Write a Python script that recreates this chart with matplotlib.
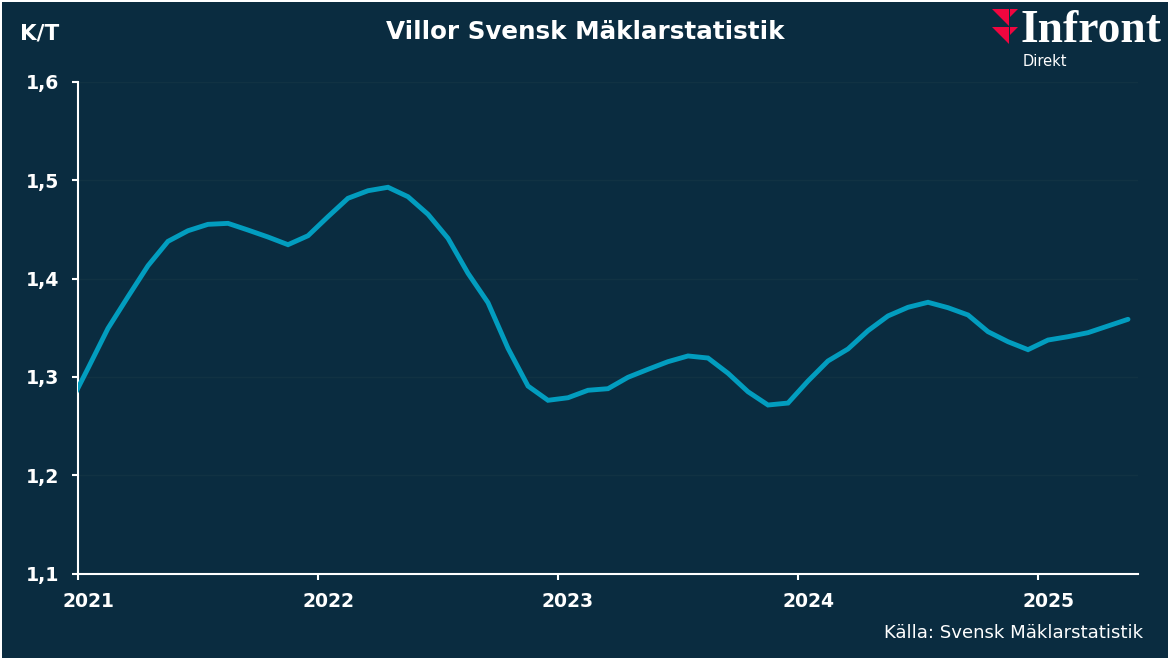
import matplotlib
matplotlib.use("Agg")
import matplotlib.pyplot as plt
from matplotlib.patches import Rectangle, Polygon

W, H = 1170, 660
BG = "#0a2c40"
GRID = "#113243"
LINE = "#029dbf"
RED = "#f0063f"
FONT = ["DejaVu Sans"]

title = "Villor Svensk Mäklarstatistik"
unit = "K/T"
source = "Källa: Svensk Mäklarstatistik"
year_labels = ["2021", "2022", "2023", "2024", "2025"]
y_ticks = [1.1, 1.2, 1.3, 1.4, 1.5, 1.6]
y_labels = ["1,1", "1,2", "1,3", "1,4", "1,5", "1,6"]

# Monthly values; the first one (Dec 2020) falls outside the axis and is clipped
months = list(range(-1, 53))
values = [1.2687,
          1.3087, 1.3494, 1.3816, 1.4131, 1.4379, 1.4487, 1.4552, 1.4562, 1.4494, 1.4423, 1.4345, 1.4436,
          1.4630, 1.4817, 1.4894, 1.4929, 1.4833, 1.4654, 1.4410, 1.4054, 1.3755, 1.3291, 1.2907, 1.2762,
          1.2788, 1.2864, 1.2880, 1.2996, 1.3077, 1.3155, 1.3213, 1.3192, 1.3037, 1.2849, 1.2714, 1.2734,
          1.2958, 1.3162, 1.3284, 1.3470, 1.3620, 1.3708, 1.3759, 1.3704, 1.3630, 1.3460, 1.3358, 1.3277,
          1.3375, 1.3409, 1.3450, 1.3518, 1.3586]


def fx(px):
    return px / W


def fy(py):
    return 1 - py / H


fig = plt.figure(figsize=(W / 100, H / 100), dpi=100, facecolor="white")
fig.add_artist(Rectangle((fx(2), fy(658)), (W - 4) / W, (H - 4) / H, transform=fig.transFigure,
                         facecolor=BG, edgecolor="none", zorder=-5))

ax = fig.add_axes([fx(78), fy(573.5), (1138 - 78) / W, (573.5 - 82) / H])
ax.patch.set_alpha(0)
ax.set_xlim(-0.5, 52.5)
ax.set_ylim(1.1, 1.6)

ax.grid(axis="y", color=GRID, lw=1)
ax.set_axisbelow(True)
ax.plot(months, values, color=LINE, lw=3.5, solid_joinstyle="miter", solid_capstyle="round", clip_on=True, zorder=3)

for s in ("top", "right"):
    ax.spines[s].set_visible(False)
for s in ("left", "bottom"):
    ax.spines[s].set_color("white")
    ax.spines[s].set_linewidth(1.5)

ax.set_yticks(y_ticks, y_labels)
ax.tick_params(axis="y", length=4.5, width=1.5, color="white", labelcolor="white", pad=9, labelsize=13.6)

tick_pos = [-0.5 + 12 * i for i in range(len(year_labels))]
ax.set_xticks(tick_pos, [""] * len(tick_pos))
ax.tick_params(axis="x", length=4.5, width=1.5, color="white")
label_pos = [12 * i for i in range(len(year_labels))]
for p, lab in zip(label_pos, year_labels):
    ax.annotate(lab, xy=(p, 1.1), xycoords="data", xytext=(0, -20.5), textcoords="offset points",
                ha="center", va="center", color="white", fontsize=13.5, fontweight="bold", family=FONT)
for t in ax.get_yticklabels():
    t.set_fontweight("bold")
    t.set_family(FONT)

fig.text(fx(585), fy(32), title, ha="center", va="center", color="white", fontsize=17.7, fontweight="bold", family=FONT)
fig.text(fx(40), fy(33.5), unit, ha="center", va="center", color="white", fontsize=15.5, fontweight="bold", family=FONT)
fig.text(fx(1143), fy(633), source, ha="right", va="center", color="white", fontsize=13.05, family=FONT)

# Logo
logo = [[(992, 9), (1009, 9), (1009, 26)],
        [(1010, 9), (1018, 9), (1010, 17)],
        [(992, 27), (1009, 27), (1009, 44)],
        [(1010, 27), (1018, 27), (1010, 35)]]
for pts in logo:
    fig.add_artist(Polygon([(fx(x), fy(y)) for x, y in pts], closed=True, transform=fig.transFigure,
                           facecolor=RED, edgecolor="none"))
fig.text(fx(1021), fy(31), "Infront", ha="left", va="center", color="white", fontsize=32.8, fontweight="bold",
         family="Liberation Serif")
fig.text(fx(1023), fy(61), "Direkt", ha="left", va="center", color="white", fontsize=10.5, family="DejaVu Sans")

fig.savefig("out.png", dpi=100, facecolor="white")
